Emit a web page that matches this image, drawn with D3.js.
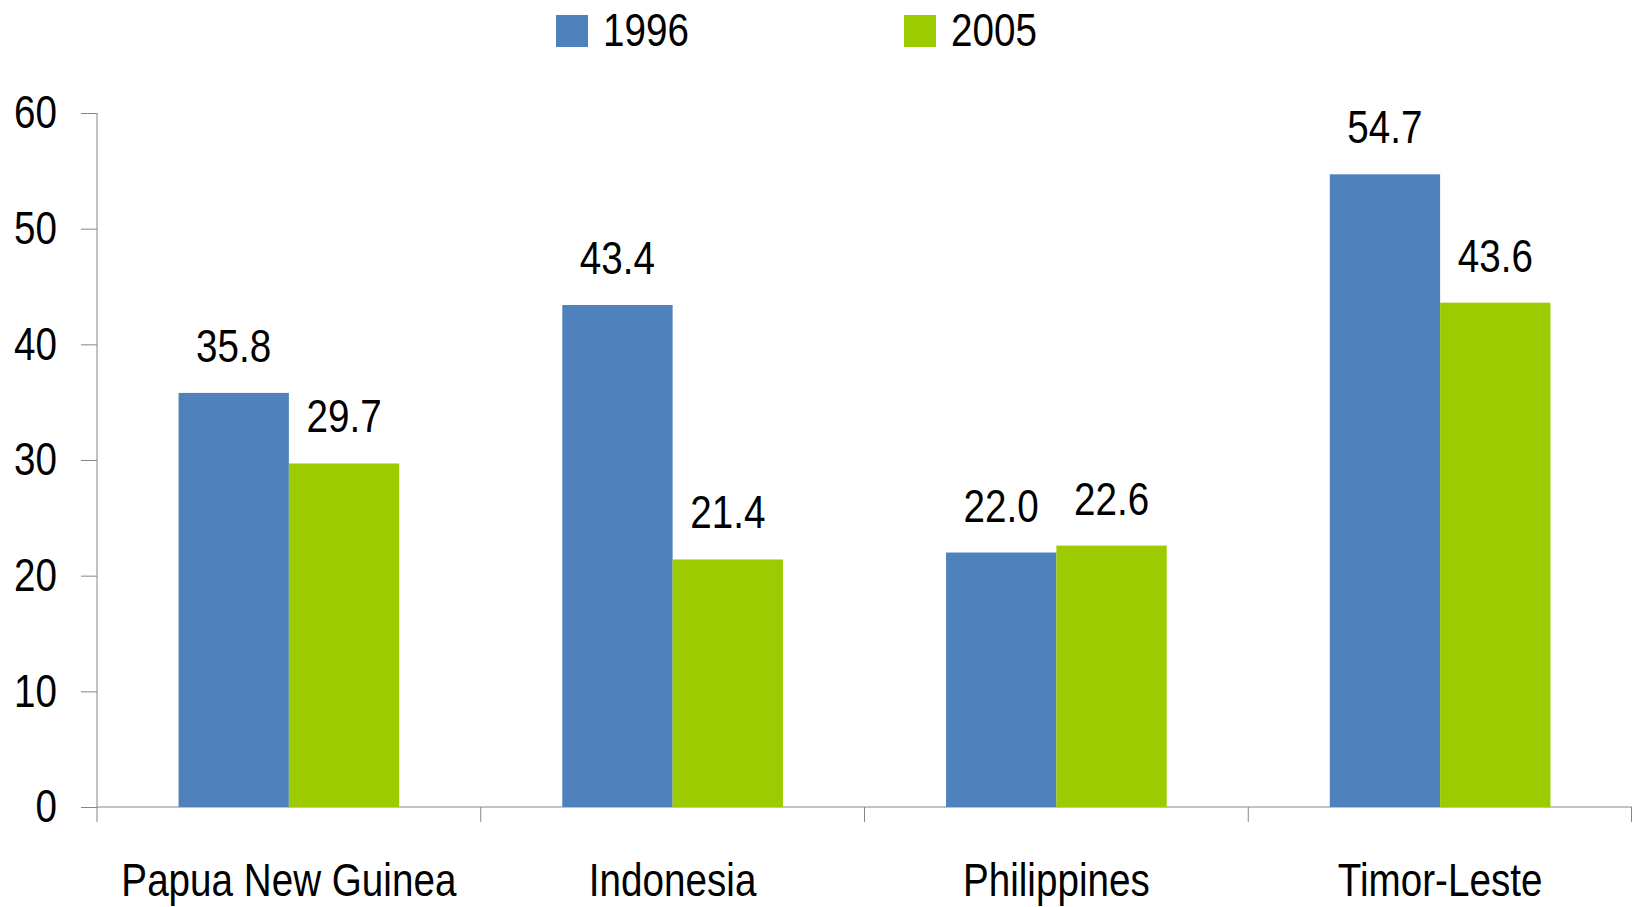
<!DOCTYPE html>
<html>
<head>
<meta charset="utf-8">
<script src="https://cdn.jsdelivr.net/npm/d3@7"></script>
<style>
  body { margin: 0; background: #fff; }
  svg text { font-family: "Liberation Sans", Arial, sans-serif; fill: #000; }
</style>
</head>
<body>
<div id="chart"></div>
<script>
const countries = ["Papua New Guinea", "Indonesia", "Philippines", "Timor-Leste"];
const years = ["1996", "2005"];
const values1996 = [35.8, 43.4, 22.0, 54.7];
const values2005 = [29.7, 21.4, 22.6, 43.6];
const colors = ["#4f81bd", "#9bcb00"];
const yTicks = [0, 10, 20, 30, 40, 50, 60];

const width = 1633;
const height = 907;
const margin = { top: 113, right: 1, bottom: 100, left: 97 };
const narrow = 0.84; // squeeze Liberation Sans to look like a narrow face
const fontSize = "46px";

const data = countries.map((c, i) => ({
  country: c,
  values: [
    { year: years[0], value: values1996[i] },
    { year: years[1], value: values2005[i] }
  ]
}));

const svg = d3
  .select("#chart")
  .append("svg")
  .attr("width", width)
  .attr("height", height);

const x = d3
  .scaleBand()
  .domain(countries)
  .range([margin.left, width - margin.right]);

const bw = x.bandwidth();
const x1 = d3
  .scaleBand()
  .domain(years)
  .range([bw * 0.2125, bw * 0.7875]);

const y = d3
  .scaleLinear()
  .domain([0, 60])
  .range([height - margin.bottom, margin.top]);

// y axis
const yAxis = svg
  .append("g")
  .attr("transform", `translate(${margin.left},0)`)
  .call(d3.axisLeft(y).tickValues(yTicks).tickSize(16).tickSizeOuter(0));
yAxis.select(".domain").attr("stroke", "#868686").attr("d", `M0,${y(60)}V${y(0) + 15}`);
yAxis.selectAll(".tick line").attr("stroke", "#868686");
yAxis
  .selectAll(".tick text")
  .attr("x", -40 / narrow)
  .attr("transform", `scale(${narrow},1)`)
  .style("font-size", fontSize)
  .style("font-family", null);

// x axis line and category separators
const xAxis = svg.append("g").attr("transform", `translate(0,${y(0)})`);
xAxis
  .append("line")
  .attr("x1", margin.left)
  .attr("x2", width - margin.right)
  .attr("stroke", "#868686");
xAxis
  .selectAll("line.sep")
  .data(countries.slice(1).concat([null]))
  .join("line")
  .attr("class", "sep")
  .attr("x1", (d) => (d ? x(d) : width - margin.right - 0.5))
  .attr("x2", (d) => (d ? x(d) : width - margin.right - 0.5))
  .attr("y1", 0)
  .attr("y2", 15)
  .attr("stroke", "#868686");
xAxis
  .selectAll("text")
  .data(countries)
  .join("text")
  .attr("transform", (d) => `translate(${x(d) + bw / 2},89) scale(${narrow},1)`)
  .attr("text-anchor", "middle")
  .style("font-size", fontSize)
  .text((d) => d);

// bars
const groups = svg
  .selectAll("g.group")
  .data(data)
  .join("g")
  .attr("class", "group")
  .attr("transform", (d) => `translate(${x(d.country)},0)`);

groups
  .selectAll("rect")
  .data((d) => d.values)
  .join("rect")
  .attr("x", (d) => x1(d.year))
  .attr("width", x1.bandwidth())
  .attr("y", (d) => y(d.value))
  .attr("height", (d) => y(0) - y(d.value))
  .attr("fill", (d, i) => colors[i]);

groups
  .selectAll("text")
  .data((d) => d.values)
  .join("text")
  .attr(
    "transform",
    (d) => `translate(${x1(d.year) + x1.bandwidth() / 2},${y(d.value) - 31}) scale(${narrow},1)`
  )
  .attr("text-anchor", "middle")
  .style("font-size", fontSize)
  .text((d) => d.value.toFixed(1));

// legend
const legendX = [556, 904];
const legend = svg
  .selectAll("g.legend")
  .data(years)
  .join("g")
  .attr("class", "legend")
  .attr("transform", (d, i) => `translate(${legendX[i]},15)`);
legend
  .append("rect")
  .attr("width", 32)
  .attr("height", 32)
  .attr("fill", (d, i) => colors[i]);
legend
  .append("text")
  .attr("transform", `translate(47,31) scale(${narrow},1)`)
  .style("font-size", fontSize)
  .text((d) => d);
</script>
</body>
</html>
